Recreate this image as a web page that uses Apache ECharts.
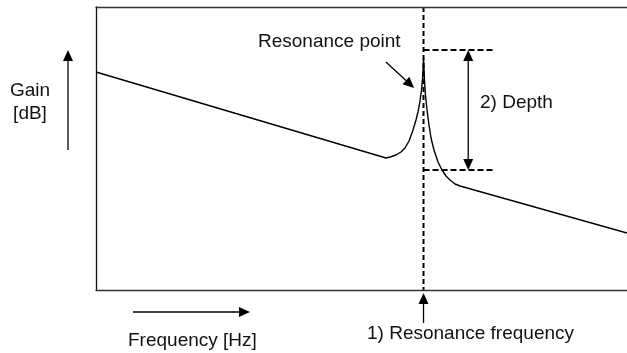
<!DOCTYPE html>
<html>
<head>
<meta charset="utf-8">
<script src="https://cdn.jsdelivr.net/npm/echarts@6/dist/echarts.min.js"></script>
<style>
html,body{margin:0;padding:0;background:#fff;}
#chart{width:627px;height:353px;}
</style>
</head>
<body>
<div id="chart"></div>
<script>
// Frequency (arbitrary units, 0..100) and gain (arbitrary units, 0..100) of the response curve
const freq = [0, 54.61, 55.37, 56.50, 57.44, 58.19, 58.95, 59.70, 60.26, 60.64, 61.02, 61.30, 61.51, 61.62, 61.68,
              61.75, 61.86, 62.05, 62.34, 62.71, 63.09, 63.65, 64.41, 65.16, 65.91, 66.67, 67.61, 68.55, 100];
const gain = [77.03, 46.64, 47.00, 47.70, 48.76, 50.18, 52.65, 56.54, 60.07, 62.90, 66.78, 70.67, 74.91, 79.15, 81.98,
              79.15, 74.20, 68.90, 63.60, 58.30, 53.71, 49.47, 45.23, 42.40, 40.28, 38.87, 37.46, 36.75, 20.14];

// Annotation values
const resonanceFreq = 61.68;
const depthLevels = [84.8, 42.4];      // top / bottom dashed levels
const depthLineEnd = 75.1;             // where horizontal dashed lines end
const depthArrowFreq = 70.1;           // double arrow position
const pointerFrom = [54.6, 80.6];      // "Resonance point" pointer arrow
const pointerTo = [59.9, 71.4];

const labels = ['Gain', '[dB]', 'Frequency [Hz]', '1) Resonance frequency', 'Resonance point', '2) Depth'];

const chart = echarts.init(document.getElementById('chart'), null, {renderer: 'canvas'});
const axisColor = '#333';
chart.setOption({
  animation: false,
  backgroundColor: '#fff',
  grid: {left: 96, right: 0, top: 7, bottom: 63, containLabel: false},
  xAxis: [
    {type: 'value', min: 0, max: 100, position: 'bottom',
     axisLine: {show: true, lineStyle: {color: axisColor, width: 1.3}},
     axisTick: {show: false}, axisLabel: {show: false}, splitLine: {show: false}},
    {type: 'value', min: 0, max: 100, position: 'top',
     axisLine: {show: true, lineStyle: {color: axisColor, width: 1.3}},
     axisTick: {show: false}, axisLabel: {show: false}, splitLine: {show: false}}
  ],
  yAxis: {type: 'value', min: 0, max: 100,
    axisLine: {show: true, lineStyle: {color: '#111', width: 1.3}},
    axisTick: {show: false}, axisLabel: {show: false}, splitLine: {show: false}},
  series: [{
    type: 'line',
    data: freq.map((f, i) => [f, gain[i]]),
    showSymbol: false,
    silent: true,
    lineStyle: {color: '#000', width: 1.4}
  }]
});

const px = (f, g) => chart.convertToPixel({xAxisIndex: 0, yAxisIndex: 0}, [f, g]);
const font = '19px "Liberation Sans", Arial, sans-serif';
const g = [];
function line(a, b, w, dash) {
  g.push({type: 'line', silent: true, shape: {x1: a[0], y1: a[1], x2: b[0], y2: b[1]},
    style: {stroke: '#000', lineWidth: w, lineDash: dash || null}});
}
function head(tip, from, L, W) {
  const dx = tip[0] - from[0], dy = tip[1] - from[1];
  const len = Math.hypot(dx, dy), ux = dx / len, uy = dy / len;
  const bx = tip[0] - ux * L, by = tip[1] - uy * L;
  g.push({type: 'polygon', silent: true,
    shape: {points: [[tip[0], tip[1]], [bx - uy * W, by + ux * W], [bx + uy * W, by - ux * W]]},
    style: {fill: '#000'}});
  return [bx, by];
}
function arrow(a, b, w, both) {
  const e = head(b, a, 11, 5);
  let s = a;
  if (both) s = head(a, b, 11, 5);
  line(s, e, w);
}
function text(t, x, y, align) {
  g.push({type: 'text', silent: true,
    style: {text: t, x: x, y: y, font: font, fill: '#111', align: align || 'left', verticalAlign: 'middle'}});
}

// Vertical dashed resonance line
line(px(resonanceFreq, 100), px(resonanceFreq, 0), 2, [5, 3]);
// Depth dashed lines
depthLevels.forEach(lv => line(px(resonanceFreq, lv), px(depthLineEnd, lv), 2, [6, 3]));
// Depth double arrow
arrow(px(depthArrowFreq, depthLevels[1]), px(depthArrowFreq, depthLevels[0]), 1.3, true);
// Resonance point pointer
arrow(px(pointerFrom[0], pointerFrom[1]), px(pointerTo[0], pointerTo[1]), 1.3);
// Resonance frequency arrow below axis
const rx = px(resonanceFreq, 0)[0];
arrow([rx, 323], [rx, 293], 1.3);
// Gain axis arrow
arrow([68, 150], [68, 50], 1.3);
// Frequency axis arrow
arrow([133, 312], [250, 312], 1.3);

text(labels[0], 30, 91, 'center');
text(labels[1], 30, 114, 'center');
text(labels[2], 128, 341);
text(labels[3], 367, 334);
text(labels[4], 258, 41.5);
text(labels[5], 480, 103);

chart.setOption({graphic: g});
</script>
</body>
</html>
